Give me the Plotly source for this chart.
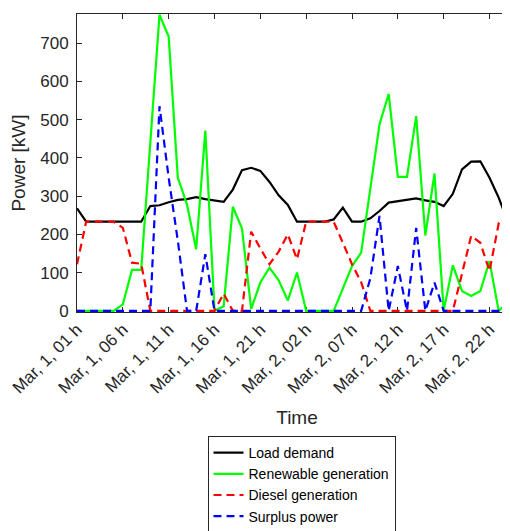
import plotly.graph_objects as go

hours = list(range(49))

load_demand = [268, 233, 233, 233, 233, 233, 233, 233, 274, 276, 284, 290, 292, 297, 292, 289,
               285, 317, 368, 374, 366, 337, 302, 277, 233, 233, 233, 233, 239, 270, 233, 233,
               242, 261, 283, 287, 291, 294, 289, 285, 274, 306, 370, 390, 391, 348, 296, 233, 233]

renewable = [0, 0, 0, 0, 0, 17, 107, 107, 435, 774, 717, 348, 278, 161, 471, 0,
             12, 272, 215, 5, 74, 113, 80, 27, 100, 0, 0, 0, 0, 58, 117, 152,
             320, 487, 567, 350, 350, 509, 197, 359, 0, 119, 52, 39, 52, 130, 0, 22, 0]

diesel = [122, 233, 233, 233, 233, 217, 126, 123, 0, 0, 0, 0, 0, 0, 0, 0,
          45, 0, 0, 207, 163, 122, 155, 200, 135, 233, 233, 233, 233, 178, 122, 75,
          0, 0, 0, 0, 0, 0, 0, 0, 0, 0, 97, 196, 178, 104, 228, 213, 233]

surplus = [0, 0, 0, 0, 0, 0, 0, 0, 0, 535, 348, 183, 0, 0, 148, 0,
           0, 0, 0, 0, 0, 0, 0, 0, 0, 0, 0, 0, 0, 0, 0, 0,
           85, 248, 0, 117, 0, 217, 0, 74, 0, 0, 0, 0, 0, 0, 0, 0, 0]

tick_positions = [0, 5, 10, 15, 20, 25, 30, 35, 40, 45]
tick_labels = ["Mar, 1, 01 h", "Mar, 1, 06 h", "Mar, 1, 11 h", "Mar, 1, 16 h", "Mar, 1, 21 h",
               "Mar, 2, 02 h", "Mar, 2, 07 h", "Mar, 2, 12 h", "Mar, 2, 17 h", "Mar, 2, 22 h"]
y_ticks = [0, 100, 200, 300, 400, 500, 600, 700]

axis_col = "#262626"
font_family = "Liberation Sans, Arial, sans-serif"

fig = go.Figure()
fig.add_trace(go.Scatter(x=hours, y=load_demand, mode="lines", name="Load demand",
                         line=dict(color="#000000", width=2.2)))
fig.add_trace(go.Scatter(x=hours, y=renewable, mode="lines", name="Renewable generation",
                         line=dict(color="#00FF00", width=2.2)))
fig.add_trace(go.Scatter(x=hours, y=diesel, mode="lines", name="Diesel generation",
                         line=dict(color="#FF0000", width=2.2, dash="8px,5px")))
fig.add_trace(go.Scatter(x=hours, y=surplus, mode="lines", name="Surplus power",
                         line=dict(color="#0000FF", width=2.2, dash="8px,5px")))

plot_h = 531 - 6 - 227
fig.update_layout(
    width=510, height=531,
    margin=dict(l=69, r=1, t=6, b=227, autoexpand=False),
    paper_bgcolor="white", plot_bgcolor="white",
    font=dict(family=font_family, color=axis_col),
    showlegend=True,
    legend=dict(
        x=(293.5 - 69) / 440, y=-(428 - 304) / plot_h, xanchor="center", yanchor="top",
        bordercolor=axis_col, borderwidth=1, bgcolor="white",
        font=dict(size=14, color="#000000", family=font_family),
        tracegroupgap=0, itemwidth=30,
    ),
    xaxis=dict(
        range=[0, 48], tickmode="array", tickvals=tick_positions, ticktext=tick_labels,
        tickangle=-45, ticks="inside", ticklen=5, tickcolor=axis_col,
        showline=True, linecolor=axis_col, linewidth=1, mirror="ticks",
        showgrid=False, zeroline=False, layer="below traces",
        tickfont=dict(size=17, color=axis_col),
        title=dict(text="Time", font=dict(size=19, color=axis_col), standoff=14),
    ),
    yaxis=dict(
        range=[-3, max(renewable) + 2], tickmode="array", tickvals=y_ticks,
        ticks="inside", ticklen=5, tickcolor=axis_col,
        showline=True, linecolor=axis_col, linewidth=1, mirror="ticks",
        showgrid=False, zeroline=False, layer="below traces",
        tickfont=dict(size=17, color=axis_col),
        ticklabelstandoff=4,
        title=dict(text="Power [kW]", font=dict(size=19, color=axis_col), standoff=10),
    ),
)

fig.write_html("out.html")
